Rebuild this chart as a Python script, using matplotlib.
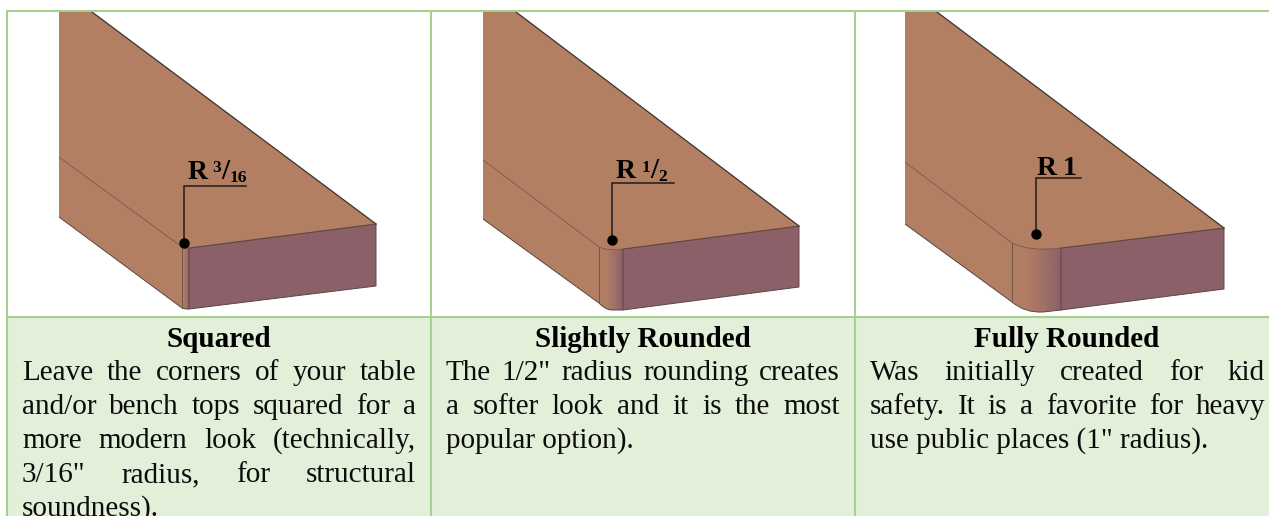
import matplotlib
matplotlib.use('Agg')
import matplotlib.pyplot as plt
from matplotlib.path import Path
from matplotlib.patches import PathPatch, Rectangle
from matplotlib.colors import LinearSegmentedColormap
import numpy as np

titles = ['Squared', 'Slightly Rounded', 'Fully Rounded']
bodies = [
    ['Leave the corners of your table', 'and/or bench tops squared for a',
     'more modern look (technically,', '3/16" radius, for structural', 'soundness).'],
    ['The 1/2" radius rounding creates', 'a softer look and it is the most', 'popular option).'],
    ['Was initially created for kid', 'safety. It is a favorite for heavy', 'use public places (1" radius).'],
]
last_justified = [4, 2, 2]

# block geometry, in image pixels
left_x = [59, 483, 905]
top_x = [92, 516, 937]
right_x = [376, 799, 1224]
right_top = [224, 226, 228]
right_bot = [286, 287, 289]
face_x = [189, 623, 1061]
face_top = [248, 249, 248]
face_bot = [309, 310, 310]
strip_x = [182, 599, 1012]
strip_top = [247, 247, 243]
strip_bot = [308, 303, 302]
crease_left = [157, 160, 162]
lower_left = [217, 219, 224]
top_ctrl = [(186, 249), (607, 251), (1030, 252)]
bot_ctrl = [(185, 309), (606, 310.5), (1025, 313)]
bot_mid = [(187, 309), (613, 310), (1043, 312)]

leader_x = [184, 612, 1036]
leader_end = [246, 674, 1081]
leader_y = [186, 183, 178]
dot_y = [243, 240, 234]

col_top = '#b27f63'
col_side = '#b37f62'
col_face = '#8c6068'
col_edge = '#5b4640'
col_border = '#a8d08d'
col_cell = '#e2efd9'
col_text = '#0c0c0c'

v_borders = [7, 431, 855]
h_borders = [11, 317]
text_left = [22, 446, 870]
text_right = [416, 840, 1265]
title_x = [218.5, 643, 1067]
title_base = 347
line_base = [380, 414, 448, 482, 516]

plt.rcParams['font.family'] = ['Liberation Serif', 'DejaVu Serif']
fs = 21.0
fig = plt.figure(figsize=(12.69, 5.16), dpi=100)
ax = fig.add_axes([0, 0, 1, 1])
ax.set_xlim(0, 1269)
ax.set_ylim(516, 0)
ax.axis('off')

ax.add_patch(Rectangle((7, 318), 1262, 198, fc=col_cell, ec='none', zorder=1))

strip_cmap = LinearSegmentedColormap.from_list('strip', [col_side, '#b07c64', '#a07068', col_face])

for i in range(3):
    # side of the board
    side = Path([(left_x[i], crease_left[i]), (strip_x[i], strip_top[i]), (strip_x[i], strip_bot[i]),
                 (left_x[i], lower_left[i]), (left_x[i], crease_left[i])],
                [Path.MOVETO, Path.LINETO, Path.LINETO, Path.LINETO, Path.CLOSEPOLY])
    ax.add_patch(PathPatch(side, fc=col_side, ec='none', zorder=2))

    # rounded corner strip with the gradient
    corner = Path([(strip_x[i], strip_top[i]), top_ctrl[i], (face_x[i], face_top[i]), (face_x[i], face_bot[i]),
                   bot_mid[i], bot_ctrl[i], (strip_x[i], strip_bot[i]), (strip_x[i], strip_top[i])],
                  [Path.MOVETO, Path.CURVE3, Path.CURVE3, Path.LINETO, Path.LINETO, Path.CURVE3, Path.CURVE3,
                   Path.CLOSEPOLY])
    im = ax.imshow(np.linspace(0, 1, 64).reshape(1, -1), cmap=strip_cmap, aspect='auto', zorder=2,
                   extent=[strip_x[i], face_x[i], 320, 230])
    im.set_clip_path(PathPatch(corner, transform=ax.transData))

    # end grain face
    ax.fill([face_x[i], right_x[i], right_x[i], face_x[i]],
            [face_top[i], right_top[i], right_bot[i], face_bot[i]],
            fc=col_face, ec=col_edge, lw=0.7, zorder=3)

    # top surface
    top = Path([(left_x[i], 12), (top_x[i], 12), (right_x[i], right_top[i]), (face_x[i], face_top[i]),
                top_ctrl[i], (strip_x[i], strip_top[i]), (left_x[i], crease_left[i]), (left_x[i], 12)],
               [Path.MOVETO, Path.LINETO, Path.LINETO, Path.LINETO, Path.CURVE3, Path.CURVE3, Path.LINETO,
                Path.CLOSEPOLY])
    ax.add_patch(PathPatch(top, fc=col_top, ec='none', zorder=3))

    # outlines
    ax.plot([top_x[i], right_x[i]], [12, right_top[i]], color='#3a3230', lw=0.9, zorder=4)
    ax.plot([right_x[i], face_x[i]], [right_top[i], face_top[i]], color=col_edge, lw=0.7, zorder=4)
    edge = Path([(face_x[i], face_top[i]), top_ctrl[i], (strip_x[i], strip_top[i]), (left_x[i], crease_left[i])],
                [Path.MOVETO, Path.CURVE3, Path.CURVE3, Path.LINETO])
    ax.add_patch(PathPatch(edge, fc='none', ec='#6e5548', lw=0.6, zorder=4))
    low = Path([(left_x[i], lower_left[i]), (strip_x[i], strip_bot[i]), bot_ctrl[i], bot_mid[i],
                (face_x[i], face_bot[i])],
               [Path.MOVETO, Path.LINETO, Path.CURVE3, Path.CURVE3, Path.LINETO])
    ax.add_patch(PathPatch(low, fc='none', ec=col_edge, lw=0.7, zorder=4))
    ax.plot([strip_x[i], strip_x[i]], [strip_top[i], strip_bot[i]], color='#6e5548', lw=0.7, zorder=4)

    # radius leader
    ax.plot([leader_end[i], leader_x[i], leader_x[i]], [leader_y[i], leader_y[i], dot_y[i]],
            color='#1c1c1c', lw=1.1, zorder=5, solid_joinstyle='miter')
    ax.plot([leader_x[i]], [dot_y[i]], 'o', color='black', ms=6.5, zorder=6)

# radius labels
def lab(x, y, s, size):
    ax.text(x, y, s, fontsize=size, fontweight='bold', color='black', va='baseline', ha='left', zorder=6)

lab(187.5, 179, 'R', 20)
lab(212.5, 172, '3', 12.5)
lab(221, 179, '/', 21)
lab(229.5, 182, '16', 12.5)
lab(616, 178, 'R', 20)
lab(642, 172, '1', 12.5)
lab(650, 178, '/', 21)
lab(658, 181, '2', 12.5)
lab(1036.5, 175, 'R', 20)
lab(1063, 175, '1', 20)

# table borders
for x in v_borders:
    ax.plot([x, x], [10, 516], color=col_border, lw=1.45, zorder=7, solid_capstyle='butt')
for y in h_borders:
    ax.plot([6, 1269], [y, y], color=col_border, lw=1.45, zorder=7, solid_capstyle='butt')

# cell text, justified word by word
renderer = fig.canvas.get_renderer()

def word_width(s):
    t = ax.text(0, 0, s, fontsize=fs)
    w = t.get_window_extent(renderer).width
    t.remove()
    return w

for i in range(3):
    ax.text(title_x[i], title_base, titles[i], fontsize=fs, fontweight='bold', color='black',
            ha='center', va='baseline', zorder=8)
    for j, line in enumerate(bodies[i]):
        words = line.split(' ')
        if j < last_justified[i]:
            widths = [word_width(w) for w in words]
            gap = (text_right[i] - text_left[i] - sum(widths)) / (len(words) - 1)
            x = text_left[i]
            for w, wd in zip(words, widths):
                ax.text(x, line_base[j], w, fontsize=fs, color=col_text, va='baseline', ha='left', zorder=8)
                x += wd + gap
        else:
            ax.text(text_left[i], line_base[j], line, fontsize=fs, color=col_text, va='baseline', ha='left',
                    zorder=8)

ax.set_xlim(0, 1269)
ax.set_ylim(516, 0)
fig.savefig('out.png', dpi=100)
